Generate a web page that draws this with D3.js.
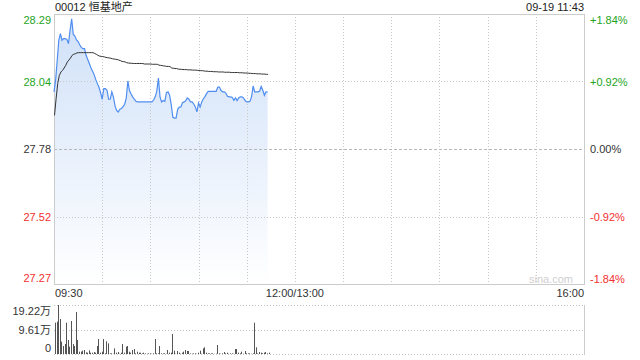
<!DOCTYPE html>
<html>
<head>
<meta charset="utf-8">
<script src="https://cdn.jsdelivr.net/npm/d3@7"></script>
<style>
  body { margin: 0; background: #fff; }
  svg text { font-family: "Liberation Sans", Arial, "Noto Sans CJK SC", sans-serif; font-size: 11px; }
</style>
</head>
<body>
<svg id="chart" width="640" height="360"></svg>
<script>
// chart values
var stockTitle = "00012 恒基地产"
var stamp = "09-19 11:43"
var prevClose = 27.78
var priceTicks = [28.29, 28.035, 27.78, 27.525, 27.27]
var priceLabels = ["28.29", "28.04", "27.78", "27.52", "27.27"]
var pctLabels = ["+1.84%", "+0.92%", "0.00%", "-0.92%", "-1.84%"]
var timeTicks = [0, 150, 330]
var timeLabels = ["09:30", "12:00/13:00", "16:00"]
var volTicks = [19.22, 9.61, 0]
var volLabels = ["19.22万", "9.61万", "0"]

// one value per minute from 09:30 to 11:43
var price = [
  27.996, 28.040, 28.115, 28.191, 28.216, 28.191, 28.197, 28.197, 28.194, 28.178,
  28.228, 28.272, 28.213, 28.207, 28.192, 28.186, 28.174, 28.164, 28.159, 28.159,
  28.134, 28.118, 28.103, 28.087, 28.074, 28.061, 28.042, 28.027, 28.013, 27.993,
  27.968, 28.008, 28.008, 28.002, 27.968, 27.968, 27.996, 27.977, 27.943, 27.926,
  27.920, 27.930, 27.933, 27.940, 27.949, 27.973, 28.037, 28.001, 27.988, 27.977,
  27.968, 27.960, 27.958, 27.958, 27.958, 27.958, 27.958, 27.958, 27.958, 27.958,
  27.958, 27.958, 27.965, 27.977, 27.998, 28.048, 27.977, 27.958, 27.963, 27.960,
  27.993, 27.996, 27.983, 27.948, 27.900, 27.897, 27.897, 27.930, 27.938, 27.939,
  27.955, 27.958, 27.962, 27.973, 27.968, 27.958, 27.958, 27.950, 27.939, 27.920,
  27.954, 27.939, 27.958, 27.970, 27.978, 27.989, 27.998, 27.998, 27.998, 27.998,
  27.998, 27.998, 28.014, 28.014, 28.001, 27.996, 27.996, 27.991, 27.979, 27.977,
  27.977, 27.975, 27.964, 27.973, 27.963, 27.973, 27.977, 27.977, 27.973, 27.963,
  27.958, 27.958, 27.960, 27.977, 28.018, 27.996, 27.996, 27.996, 27.998, 28.016,
  28.002, 27.983, 27.996, 27.996
]

var avg = [
  27.907, 27.970, 28.027, 28.058, 28.071, 28.077, 28.086, 28.096, 28.109, 28.116,
  28.124, 28.134, 28.138, 28.140, 28.143, 28.144, 28.144, 28.144, 28.144, 28.144,
  28.144, 28.144, 28.144, 28.144, 28.144, 28.141, 28.138, 28.134, 28.131, 28.130,
  28.129, 28.128, 28.126, 28.125, 28.124, 28.123, 28.121, 28.120, 28.119, 28.118,
  28.116, 28.114, 28.111, 28.110, 28.109, 28.106, 28.105, 28.104, 28.104, 28.103,
  28.103, 28.103, 28.103, 28.103, 28.103, 28.103, 28.101, 28.101, 28.101, 28.101,
  28.101, 28.100, 28.100, 28.100, 28.100, 28.097, 28.096, 28.095, 28.094, 28.093,
  28.092, 28.092, 28.091, 28.086, 28.085, 28.084, 28.084, 28.082, 28.081, 28.081,
  28.080, 28.080, 28.080, 28.079, 28.079, 28.079, 28.078, 28.078, 28.078, 28.077,
  28.077, 28.076, 28.076, 28.075, 28.074, 28.074, 28.073, 28.073, 28.073, 28.072,
  28.072, 28.072, 28.071, 28.071, 28.071, 28.071, 28.070, 28.070, 28.070, 28.070,
  28.069, 28.069, 28.069, 28.069, 28.069, 28.068, 28.068, 28.068, 28.067, 28.067,
  28.067, 28.066, 28.066, 28.065, 28.065, 28.065, 28.064, 28.064, 28.064, 28.063,
  28.063, 28.063, 28.062, 28.062
]

// volume in 万 shares
var volume = [
  12.29, 12.68, 19.22, 13.73, 4.84, 3.14, 3.92, 12.29, 5.49, 2.88,
  12.94, 3.92, 3.14, 16.47, 5.49, 0.92, 0.92, 1.31, 1.57, 0.65,
  0.52, 1.44, 0.52, 0.52, 0.78, 0.52, 3.14, 5.88, 0.52, 0.92,
  5.88, 0.26, 4.97, 4.18, 0.26, 0.26, 0.10, 2.22, 0.52, 0.78,
  0.10, 0.52, 3.92, 0.52, 2.88, 3.14, 0.92, 0.52, 1.57, 1.96,
  0.26, 0.92, 0.52, 0.52, 0.26, 0.52, 0.26, 0.10, 0.26, 0.26,
  0.10, 0.26, 5.88, 0.26, 0.26, 3.14, 0.26, 0.26, 0.26, 0.10,
  1.57, 0.52, 0.52, 7.85, 1.31, 0.10, 1.18, 0.52, 0.10, 0.52,
  0.92, 1.57, 1.18, 1.18, 0.26, 0.10, 0.26, 0.26, 0.10, 0.52,
  1.31, 0.10, 2.22, 2.62, 0.52, 0.26, 0.26, 0.26, 0.26, 0.10,
  0.10, 3.53, 0.26, 0.10, 0.26, 0.78, 0.26, 0.52, 0.10, 0.26,
  0.26, 0.10, 1.96, 1.96, 0.52, 0.26, 0.92, 0.10, 1.18, 0.26,
  0.26, 0.26, 0.10, 0.26, 12.29, 2.62, 0.26, 0.78, 0.52, 0.26,
  0.52, 0.78, 0.26, 0.52
]

var green = "#1ea51e", red = "#f23030", ink = "#333"

// plot box (names avoid window.top)
var boxL = 54, boxR = 584
var boxT = 14, boxB = 284
var volT = 305, volB = 354

var svg = d3.select("#chart")

var x = d3.scaleLinear().domain([0, 330]).range([boxL, boxR])
var y = d3.scaleLinear().domain([27.27, 28.29]).range([boxB, boxT])
var vy = d3.scaleLinear().domain([0, 19.22]).range([volB, volT])

function tone(v) {
  if (Math.abs(v - prevClose) < 0.001) return ink
  return v > prevClose ? green : red
}

// fill gradient under the price line
var grad = svg.append("defs").append("linearGradient")
  .attr("id", "fill")
  .attr("gradientUnits", "userSpaceOnUse")
  .attr("x1", 0).attr("y1", boxT).attr("x2", 0).attr("y2", boxB)
grad.append("stop").attr("offset", "0%").attr("stop-color", "#cfe0f8")
grad.append("stop").attr("offset", "100%").attr("stop-color", "#ffffff")

svg.append("path")
  .datum(price)
  .attr("fill", "url(#fill)")
  .attr("d", d3.area()
    .x(function(d, i) { return x(i) })
    .y0(y(27.27))
    .y1(function(d) { return y(d) }))

// grid
var gridV = d3.range(30, 330, 30)
svg.append("g").selectAll("line")
  .data(gridV).enter().append("line")
  .attr("x1", function(d) { return Math.round(x(d)) + 0.5 })
  .attr("x2", function(d) { return Math.round(x(d)) + 0.5 })
  .attr("y1", boxT).attr("y2", boxB)
  .attr("stroke", "#c8c8c8").attr("stroke-dasharray", "1,2")

svg.append("g").selectAll("line")
  .data([priceTicks[1], priceTicks[3]]).enter().append("line")
  .attr("x1", boxL).attr("x2", boxR)
  .attr("y1", function(d) { return Math.round(y(d)) + 0.5 })
  .attr("y2", function(d) { return Math.round(y(d)) + 0.5 })
  .attr("stroke", "#c8c8c8").attr("stroke-dasharray", "1,2")

svg.append("line")
  .attr("x1", boxL).attr("x2", boxR)
  .attr("y1", Math.round(y(prevClose)) + 0.5).attr("y2", Math.round(y(prevClose)) + 0.5)
  .attr("stroke", "#b8b8b8").attr("stroke-dasharray", "3,2")

svg.append("rect")
  .attr("x", boxL + 0.5).attr("y", boxT + 0.5)
  .attr("width", boxR - boxL).attr("height", boxB - boxT)
  .attr("fill", "none").attr("stroke", "#cccccc")

// price and average lines
svg.append("path")
  .datum(price)
  .attr("fill", "none").attr("stroke", "#4f8ef0").attr("stroke-width", 1.2)
  .attr("d", d3.line().x(function(d, i) { return x(i) }).y(function(d) { return y(d) }))

svg.append("path")
  .datum(avg)
  .attr("fill", "none").attr("stroke", "#333").attr("stroke-width", 1)
  .attr("d", d3.line().x(function(d, i) { return x(i) + 0.5 }).y(function(d) { return y(d) }))

// left price axis
var yAxis = svg.append("g")
  .attr("transform", "translate(" + boxL + ",0)")
  .call(d3.axisLeft(y).tickValues(priceTicks).tickSize(0).tickPadding(3)
    .tickFormat(function(d, i) { return priceLabels[i] }))
yAxis.select(".domain").remove()
yAxis.selectAll("text")
  .attr("fill", function(d) { return tone(d) })
  .attr("dy", function(d, i) { return i == 0 ? "0.85em" : i == priceTicks.length - 1 ? "-0.2em" : "0.32em" })

// right percent axis
var pAxis = svg.append("g")
  .attr("transform", "translate(" + boxR + ",0)")
  .call(d3.axisRight(y).tickValues(priceTicks).tickSize(0).tickPadding(6)
    .tickFormat(function(d, i) { return pctLabels[i] }))
pAxis.select(".domain").remove()
pAxis.selectAll("text")
  .attr("fill", function(d) { return tone(d) })
  .attr("dy", function(d, i) { return i == 0 ? "0.9em" : i == priceTicks.length - 1 ? "-0.15em" : "0.32em" })

// time labels
svg.append("g").selectAll("text")
  .data(timeTicks).enter().append("text")
  .attr("x", function(d) { return x(d) + (d == 0 ? 1 : 0) })
  .attr("y", 297)
  .attr("fill", ink)
  .attr("text-anchor", function(d, i) { return i == 0 ? "start" : i == timeTicks.length - 1 ? "end" : "middle" })
  .text(function(d, i) { return timeLabels[i] })

// header
svg.append("text").attr("x", boxL + 1).attr("y", 11).attr("fill", "#222").text(stockTitle)
svg.append("text").attr("x", boxR).attr("y", 11).attr("fill", "#222")
  .attr("text-anchor", "end").text(stamp)

svg.append("text").attr("x", boxR - 11).attr("y", 283)
  .attr("text-anchor", "end").attr("fill", "#cfcfcf").text("sina.com")

// volume panel
svg.append("g").selectAll("line")
  .data(volTicks).enter().append("line")
  .attr("x1", boxL).attr("x2", boxR)
  .attr("y1", function(d) { return Math.round(vy(d)) + 0.5 })
  .attr("y2", function(d) { return Math.round(vy(d)) + 0.5 })
  .attr("stroke", "#c0c0c0").attr("stroke-dasharray", "1,2")

svg.append("line")
  .attr("x1", boxR + 0.5).attr("x2", boxR + 0.5)
  .attr("y1", volT).attr("y2", volB + 1)
  .attr("stroke", "#cccccc")

svg.append("g").selectAll("rect")
  .data(volume).enter().append("rect")
  .attr("x", function(d, i) { return Math.round(x(i)) + 1 })
  .attr("width", 1)
  .attr("y", function(d) { return vy(d) })
  .attr("height", function(d) { return vy(0) - vy(d) })
  .attr("fill", "#555")

var vAxis = svg.append("g")
  .attr("transform", "translate(" + boxL + ",0)")
  .call(d3.axisLeft(vy).tickValues(volTicks).tickSize(0).tickPadding(3)
    .tickFormat(function(d, i) { return volLabels[i] }))
vAxis.select(".domain").remove()
vAxis.selectAll("text")
  .attr("fill", ink)
  .attr("dy", function(d, i) { return i == 0 ? "0.85em" : i == volTicks.length - 1 ? "-0.2em" : "0.32em" })
</script>
</body>
</html>
